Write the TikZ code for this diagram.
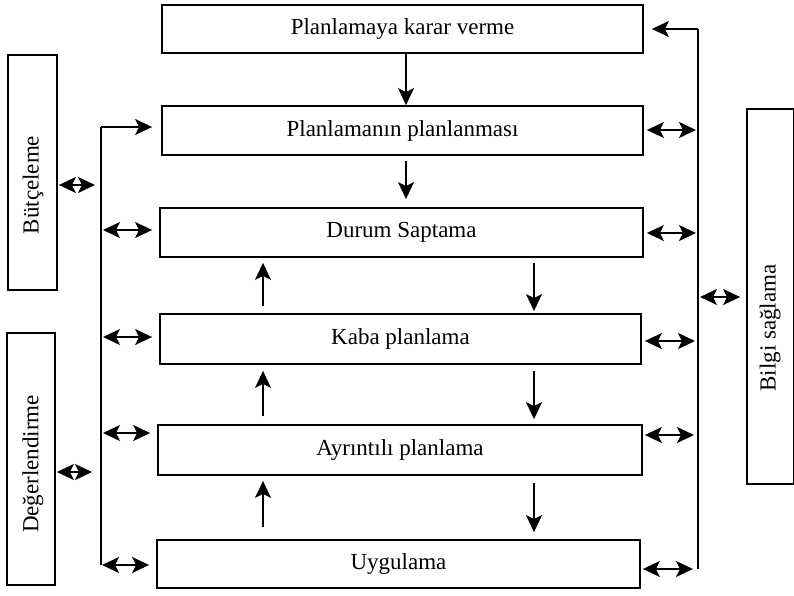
\documentclass[tikz,border=0pt]{standalone}
\usepackage{fontspec}
\setmainfont{Liberation Serif}
\usetikzlibrary{arrows.meta}
\begin{document}
\begin{tikzpicture}[x=1pt,y=-1pt,
  box/.style={draw, line width=1.8pt, inner sep=0pt, font=\fontsize{23}{27}\selectfont},
  sidetext/.style={rotate=90, inner sep=0pt, font=\fontsize{23}{27}\selectfont},
  arr/.style={line width=1.7pt, -{Stealth[length=17pt,width=16pt,inset=4pt]}},
  dbl/.style={line width=1.7pt, {Stealth[length=17pt,width=16pt,inset=4pt]}-{Stealth[length=17pt,width=16pt,inset=4pt]}},
  bus/.style={line width=1.8pt}]
\useasboundingbox (0,0) rectangle (794,595);

% main sequence of planning stages
\node[box, minimum width=481pt, minimum height=48pt] (b1) at (402.5,29)  {Planlamaya karar verme};
\node[box, minimum width=481pt, minimum height=49pt] (b2) at (402.5,130.5) {Planlamanın planlanması};
\node[box, minimum width=483pt, minimum height=49pt] (b3) at (401.5,232.5) {Durum Saptama};
\node[box, minimum width=481pt, minimum height=50pt] (b4) at (400.5,339) {Kaba planlama};
\node[box, minimum width=484pt, minimum height=50pt] (b5) at (400,450) {Ayrıntılı planlama};
\node[box, minimum width=483pt, minimum height=48pt] (b6) at (398.5,564) {Uygulama};

% side blocks
\node[box, minimum width=49pt, minimum height=235pt] (bud) at (32.5,172.5) {};
\node[sidetext] (budt) at (33,185) {Bütçeleme};
\node[box, minimum width=48pt, minimum height=252pt] (deg) at (31,459) {};
\node[sidetext] (degt) at (33,464) {Değerlendirme};
\node[box, minimum width=47pt, minimum height=375pt] (bil) at (770.5,296.5) {};
\node[sidetext] (bilt) at (770,328) {Bilgi sağlama};

% columns used by the vertical arrows
\coordinate (cm) at (406,0);
\coordinate (cd) at (534,0);
\coordinate (cu) at (263,0);

% downward flow
\draw[arr] (b1.south -| cm) -- (b2.north -| cm);
\draw[arr, shorten <=5pt, shorten >=8pt] (b2.south -| cm) -- (b3.north -| cm);
\draw[arr, shorten <=5pt, shorten >=2pt] (b3.south -| cd) -- (b4.north -| cd);
\draw[arr, shorten <=6pt, shorten >=5pt] (b4.south -| cd) -- (b5.north -| cd);
\draw[arr, shorten <=7pt, shorten >=7pt] (b5.south -| cd) -- (b6.north -| cd);

% feedback upward
\draw[arr, shorten <=7pt, shorten >=5pt] (b4.north -| cu) -- (b3.south -| cu);
\draw[arr, shorten <=8pt, shorten >=6pt] (b5.north -| cu) -- (b4.south -| cu);
\draw[arr, shorten <=12pt, shorten >=5pt] (b6.north -| cu) -- (b5.south -| cu);

% left bus
\coordinate (lt) at (101,127);
\coordinate (l3) at (101,230);
\coordinate (l4) at (101,337);
\coordinate (l5) at (101,433);
\coordinate (lb) at (101,565);
\coordinate (lbud) at (101,185);
\coordinate (ldeg) at (101,472);
\draw[bus] (lt) -- (lb);
\draw[arr, shorten >=9pt] (lt) -- (lt -| b2.west);
\draw[dbl, shorten <=2pt, shorten >=7pt] (l3) -- (l3 -| b3.west);
\draw[dbl, shorten <=2pt, shorten >=7pt] (l4) -- (l4 -| b4.west);
\draw[dbl, shorten <=2pt, shorten >=7pt] (l5) -- (l5 -| b5.west);
\draw[dbl, shorten <=1pt, shorten >=7pt] (lb) -- (lb -| b6.west);
\draw[dbl, shorten <=1pt, shorten >=6pt] (lbud -| bud.east) -- (lbud);
\draw[dbl, shorten <=1pt, shorten >=9pt] (ldeg -| deg.east) -- (ldeg);

% right bus
\coordinate (rt) at (698,29);
\coordinate (r2) at (698,130);
\coordinate (r3) at (698,233);
\coordinate (r4) at (698,341);
\coordinate (r5) at (698,435);
\coordinate (rb) at (698,569);
\coordinate (rbil) at (698,297);
\draw[bus] (rt) -- (rb);
\draw[arr, shorten >=8pt] (rt) -- (b1.east);
\draw[dbl, shorten <=3pt, shorten >=2pt] (r2 -| b2.east) -- (r2);
\draw[dbl, shorten <=3pt, shorten >=2pt] (r3 -| b3.east) -- (r3);
\draw[dbl, shorten <=3pt, shorten >=3pt] (r4 -| b4.east) -- (r4);
\draw[dbl, shorten <=2pt, shorten >=4pt] (r5 -| b5.east) -- (r5);
\draw[dbl, shorten <=2pt, shorten >=5pt] (rb -| b6.east) -- (rb);
\draw[dbl, shorten <=2pt, shorten >=6pt] (rbil) -- (rbil -| bil.west);
\end{tikzpicture}
\end{document}
